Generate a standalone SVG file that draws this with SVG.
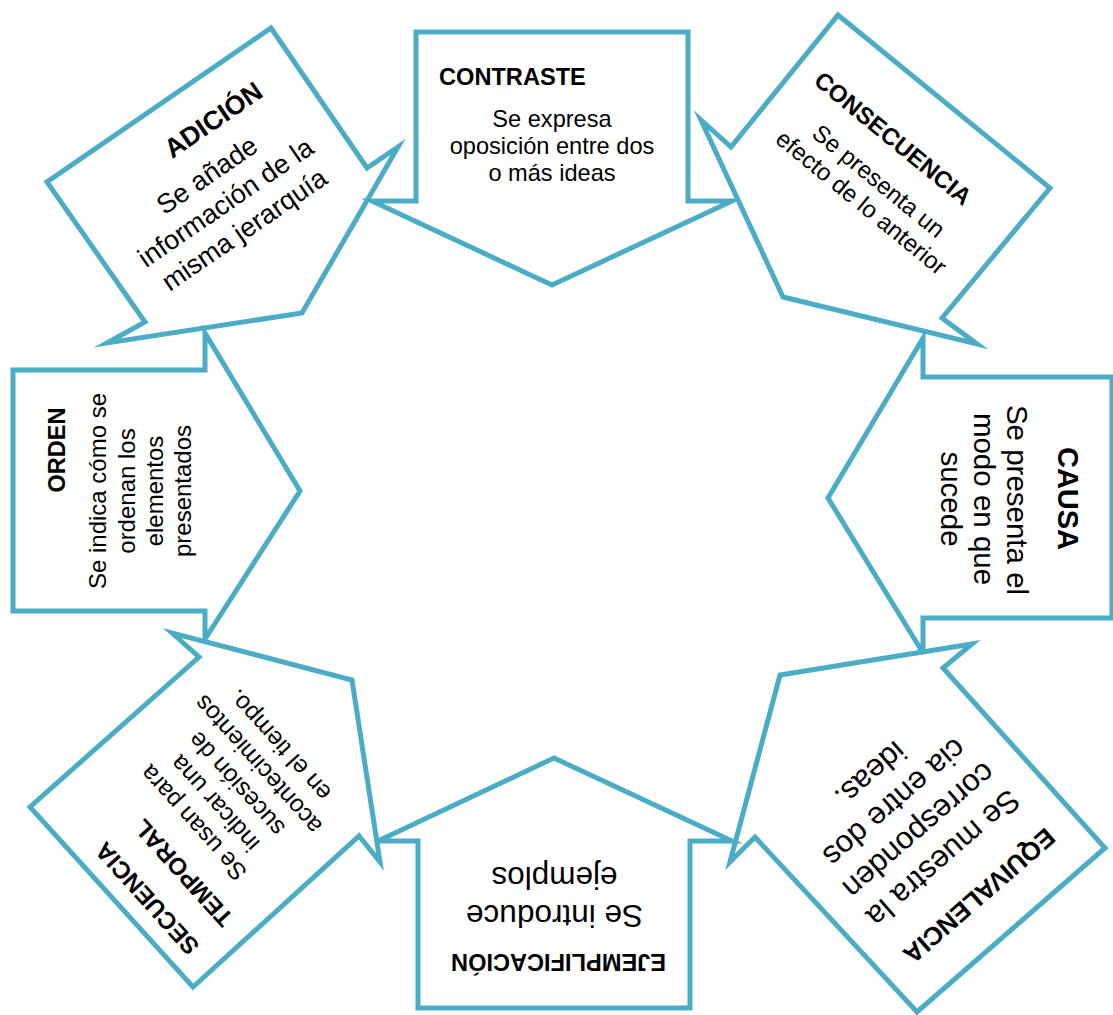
<svg xmlns="http://www.w3.org/2000/svg" width="1113" height="1015" viewBox="0 0 1113 1015">
<style>
.shape{fill:#fff;stroke:#4BACC6;stroke-width:5;stroke-linejoin:miter;stroke-miterlimit:10}
.t{font-family:"Liberation Sans",Arial,sans-serif;fill:#000;text-anchor:middle;dominant-baseline:central}
.b{font-weight:bold}
</style>
<rect width="1113" height="1015" fill="#fff"/>
<g id="connectors"></g>
<g id="adicion">
<polygon class="shape" points="271,28 367,168 398,147 302,313 107,343 145,322 47,182"/>
<text class="t b" font-size="26.5" transform="translate(213.3,120) rotate(-34.5)">ADICIÓN</text>
<text class="t" font-size="27" transform="translate(207,175.3) rotate(-34.5)">Se añade</text>
<text class="t" font-size="27" transform="translate(225.7,202.5) rotate(-34.5)">información de la</text>
<text class="t" font-size="27" transform="translate(244.3,229.7) rotate(-34.5)">misma jerarquía</text>
</g>
<g id="contraste">
<polygon class="shape" points="416,32 688,32 688,201 732,201 552,285 372,201 416,201"/>
<text class="t b" font-size="23.6" x="439" y="85" style="text-anchor:start;dominant-baseline:auto">CONTRASTE</text>
<text class="t" font-size="23.6" x="552" y="127" style="dominant-baseline:auto">Se expresa</text>
<text class="t" font-size="23.6" x="552" y="154" style="dominant-baseline:auto">oposición entre dos</text>
<text class="t" font-size="23.6" x="552" y="181" style="dominant-baseline:auto">o más ideas</text>
</g>
<g id="consecuencia">
<polygon class="shape" points="838,15 1050,188 942,318 977,344 783,297 701,120 731,147"/>
<text class="t b" font-size="24" transform="translate(893.1,138.2) rotate(39.3)">CONSECUENCIA</text>
<text class="t" font-size="24" transform="translate(878.9,180.8) rotate(39.3)">Se presenta un</text>
<text class="t" font-size="24" transform="translate(861.4,202.2) rotate(39.3)">efecto de lo anterior</text>
</g>
<g id="orden">
<polygon class="shape" points="13,370 205,370 205,333 300,491 205,639 205,611 13,611"/>
<text class="t b" font-size="23.5" transform="translate(56.9,450) rotate(-90)">ORDEN</text>
<text class="t" font-size="24" transform="translate(97.7,491) rotate(-90)">Se indica cómo se</text>
<text class="t" font-size="24" transform="translate(126.7,491) rotate(-90)">ordenan los</text>
<text class="t" font-size="24" transform="translate(154.7,491) rotate(-90)">elementos</text>
<text class="t" font-size="24" transform="translate(182.7,491) rotate(-90)">presentados</text>
</g>
<g id="causa">
<polygon class="shape" points="1112,377 923,377 923,338 828,498 923,653 923,618 1112,618"/>
<text class="t b" font-size="29" transform="translate(1068,498.5) rotate(90)">CAUSA</text>
<text class="t" font-size="29.5" transform="translate(1017,500) rotate(90)">Se presenta el</text>
<text class="t" font-size="29.5" transform="translate(984,499) rotate(90)">modo en que</text>
<text class="t" font-size="29.5" transform="translate(951,499) rotate(90)">sucede</text>
</g>
<g id="equivalencia">
<polygon class="shape" points="780,675 972,644 943,668 1105,848 917,1012 755,837 730,862"/>
<text class="t b" font-size="25.5" transform="translate(979.3,896.1) rotate(139)">EQUIVALENCIA</text>
<text class="t" font-size="31" transform="translate(943.3,858.4) rotate(139)">Se muestra la</text>
<text class="t" font-size="31" transform="translate(919,830.5) rotate(139)">corresponden</text>
<text class="t" font-size="31" transform="translate(894.7,802.6) rotate(139)">cia entre dos</text>
<text class="t" font-size="31" transform="translate(870.5,774.6) rotate(139)">ideas.</text>
</g>
<g id="ejemplificacion">
<polygon class="shape" points="418,1008 690,1008 690,841 732,841 554,758 378,841 418,841"/>
<text class="t b" font-size="23.6" transform="translate(558.5,962.2) rotate(180)">EJEMPLIFICACIÓN</text>
<text class="t" font-size="31.5" transform="translate(554.5,916) rotate(180)">Se introduce</text>
<text class="t" font-size="31.5" transform="translate(554.5,878) rotate(180)">ejemplos</text>
</g>
<g id="secuencia">
<polygon class="shape" points="172,633 199,657 30,807 193,987 359,836 380,862 352,680"/>
<text class="t b" font-size="24" transform="translate(146.9,898.7) rotate(228)">SECUENCIA</text>
<text class="t b" font-size="24" transform="translate(183.2,873) rotate(228)">TEMPORAL</text>
<text class="t" font-size="24.5" transform="translate(193.2,823) rotate(228)">Se usan para</text>
<text class="t" font-size="24.5" transform="translate(214.7,803.6) rotate(228)">indicar una</text>
<text class="t" font-size="24.5" transform="translate(236.2,784.2) rotate(228)">sucesión de</text>
<text class="t" font-size="24.5" transform="translate(257.8,764.8) rotate(228)">acontecimientos</text>
<text class="t" font-size="24.5" transform="translate(279.3,745.4) rotate(228)">en el tiempo.</text>
</g>
</svg>
